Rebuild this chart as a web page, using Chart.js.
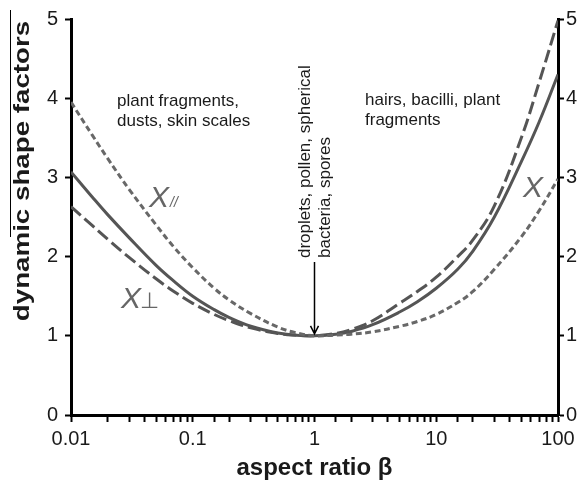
<!DOCTYPE html>
<html>
<head>
<meta charset="utf-8">
<script src="https://cdn.jsdelivr.net/npm/chart.js@4.4.1/dist/chart.umd.min.js"></script>
<style>
  html, body { margin: 0; padding: 0; background: #fff; }
  #wrap { width: 581px; height: 483px; }
</style>
</head>
<body>
<div id="wrap"><canvas id="chart"></canvas></div>
<script>
// aspect ratio samples (log axis)
var beta = [0.01, 0.015, 0.02, 0.03, 0.05, 0.07, 0.1, 0.15, 0.2, 0.3, 0.5, 0.7,
            1, 1.5, 2, 3, 5, 7, 10, 15, 20, 30, 50, 70, 100];

// orientation-averaged shape factor (solid)
var chiMean = [3.07, 2.75, 2.53, 2.24, 1.89, 1.69, 1.50, 1.33, 1.23, 1.12, 1.035, 1.009,
               1.00, 1.02, 1.055, 1.14, 1.30, 1.43, 1.60, 1.84, 2.07, 2.50, 3.20, 3.70, 4.30];
// perpendicular motion (long dashes)
var chiPerp = [2.63, 2.39, 2.22, 1.99, 1.72, 1.56, 1.41, 1.27, 1.19, 1.10, 1.03, 1.008,
               1.00, 1.03, 1.08, 1.19, 1.41, 1.56, 1.74, 2.00, 2.21, 2.64, 3.50, 4.20, 4.98];
// parallel motion (short dashes)
var chiPar  = [3.95, 3.53, 3.24, 2.85, 2.40, 2.12, 1.86, 1.60, 1.45, 1.28, 1.11, 1.04,
               1.00, 1.01, 1.02, 1.05, 1.12, 1.18, 1.27, 1.42, 1.56, 1.84, 2.25, 2.58, 2.98];

var xTickLabels = ['0.01', '0.1', '1', '10', '100'];
var yTicks = [0, 1, 2, 3, 4, 5];

function pts(vals) {
    return beta.map(function (b, i) { return {x: b, y: vals[i]}; });
}

var FONT = '"Liberation Sans", Arial, sans-serif';
var INK = '#1a1a1a';

function series(vals, dash, color) {
    return {
        data: pts(vals),
        borderColor: color,
        borderWidth: 3,
        borderDash: dash,
        pointRadius: 0,
        showLine: true,
        fill: false,
        tension: 0.4
    };
}

// titles, notes, arrow and curve names drawn over the plot
var notes = {
    id: 'notes',
    afterDraw: function (chart) {
        var ctx = chart.ctx;
        var xs = chart.scales.x, ys = chart.scales.y;
        ctx.save();

        // y title, stretched along its length
        ctx.save();
        ctx.fillStyle = INK;
        ctx.font = 'bold 22px ' + FONT;
        ctx.textAlign = 'center';
        ctx.textBaseline = 'middle';
        ctx.translate(23, 171);
        ctx.rotate(-Math.PI / 2);
        ctx.scale(1.26, 1);
        ctx.fillText('dynamic shape factors', 0, 0);
        ctx.restore();

        // thin rule beside the y title
        ctx.strokeStyle = '#000';
        ctx.lineWidth = 1;
        ctx.beginPath();
        ctx.moveTo(10.5, 10);
        ctx.lineTo(10.5, 237);
        ctx.stroke();

        ctx.fillStyle = INK;
        ctx.font = '17px ' + FONT;
        ctx.textBaseline = 'middle';
        ctx.textAlign = 'left';
        ctx.fillText('plant fragments,', 117, 101);
        ctx.fillText('dusts, skin scales', 117, 121);
        ctx.fillText('hairs, bacilli, plant', 365, 100);
        ctx.fillText('fragments', 365, 120);

        // vertical note at beta = 1
        var x1 = xs.getPixelForValue(1);
        ctx.save();
        ctx.translate(x1 - 9, 258);
        ctx.rotate(-Math.PI / 2);
        ctx.fillText('droplets, pollen, spherical', 0, 0);
        ctx.fillText('bacteria, spores', 0, 20);
        ctx.restore();

        var tipY = ys.getPixelForValue(1) - 2;
        ctx.strokeStyle = '#000';
        ctx.lineWidth = 1.5;
        ctx.beginPath();
        ctx.moveTo(x1, 262);
        ctx.lineTo(x1, tipY);
        ctx.moveTo(x1 - 4, tipY - 8);
        ctx.lineTo(x1, tipY);
        ctx.lineTo(x1 + 4, tipY - 8);
        ctx.stroke();

        // curve names
        ctx.fillStyle = '#666';
        ctx.font = 'italic 30px ' + FONT;
        ctx.textBaseline = 'alphabetic';
        ctx.fillText('X', 149, 207);
        ctx.fillText('X', 121, 308);
        ctx.fillText('X', 523, 197);
        ctx.font = 'italic 14px ' + FONT;
        ctx.fillText('//', 170, 207);
        ctx.font = '22px ' + FONT;
        ctx.fillText('\u22A5', 140, 308);
        ctx.restore();
    }
};

new Chart(document.getElementById('chart'), {
    type: 'scatter',
    data: {
        datasets: [
            series(chiPar, [6, 3.5], '#686868'),
            series(chiPerp, [13, 5], '#555'),
            series(chiMean, [], '#555')
        ]
    },
    options: {
        responsive: true,
        maintainAspectRatio: false,
        animation: false,
        events: [],
        layout: {padding: {top: 18, left: 0, right: 0, bottom: 0}},
        plugins: {legend: {display: false}, tooltip: {enabled: false}},
        scales: {
            x: {
                type: 'logarithmic',
                min: 0.01,
                max: 100,
                border: {color: '#000', width: 3},
                grid: {drawOnChartArea: false, tickLength: 7, tickColor: '#000', tickWidth: 2},
                ticks: {
                    autoSkip: false,
                    maxRotation: 0,
                    color: INK,
                    padding: 5,
                    font: {family: FONT, size: 20},
                    callback: function (v) {
                        var s = String(+v.toPrecision(6));
                        return xTickLabels.indexOf(s) >= 0 ? s : '';
                    }
                },
                title: {
                    display: true,
                    text: 'aspect ratio \u03B2',
                    color: INK,
                    font: {family: FONT, size: 24, weight: 'bold'},
                    padding: {top: 3, bottom: 0}
                },
                afterFit: function (s) { s.height = 68; }
            },
            y: {
                position: 'left',
                min: 0,
                max: 5,
                border: {color: '#000', width: 3},
                grid: {drawOnChartArea: false, tickLength: 6, tickColor: '#000', tickWidth: 2},
                ticks: {
                    stepSize: 1,
                    color: INK,
                    padding: 7,
                    font: {family: FONT, size: 20},
                    callback: function (v) { return yTicks.indexOf(v) >= 0 ? String(v) : ''; }
                },
                afterFit: function (s) { s.width = 71; }
            },
            y2: {
                position: 'right',
                min: 0,
                max: 5,
                border: {color: '#000', width: 3},
                grid: {drawOnChartArea: false, tickLength: 6, tickColor: '#000', tickWidth: 2},
                ticks: {
                    stepSize: 1,
                    color: INK,
                    padding: 2,
                    font: {family: FONT, size: 20},
                    callback: function (v) { return yTicks.indexOf(v) >= 0 ? String(v) : ''; }
                },
                afterFit: function (s) { s.width = 23; }
            }
        }
    },
    plugins: [notes]
});
</script>
</body>
</html>
